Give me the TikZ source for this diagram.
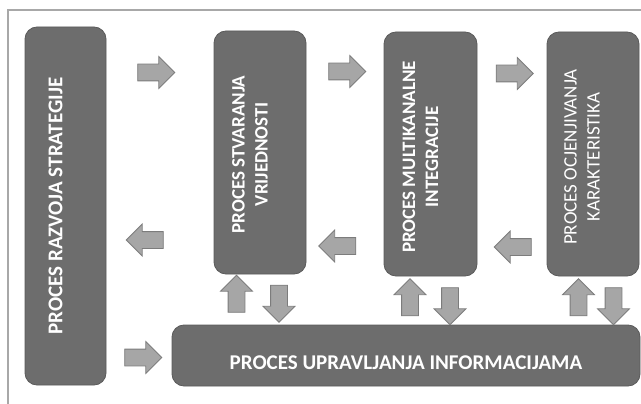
\documentclass[tikz,border=0pt]{standalone}
\usepackage{fontspec}
\setmainfont{Carlito}
\usetikzlibrary{shapes.arrows}

\definecolor{boxgray}{HTML}{6D6D6D}
\definecolor{boxline}{HTML}{5A5A5A}
\definecolor{arrowgray}{HTML}{A6A6A6}
\definecolor{arrowline}{HTML}{7C7C7C}
\definecolor{framegray}{HTML}{A8A8A8}

\tikzset{
    procbox/.style={draw=boxline, fill=boxgray, rounded corners=12pt, line width=0.8pt, inner sep=0pt},
    proctext/.style={text=white, font=\fontsize{21}{24}\selectfont\bfseries, align=center, inner sep=0pt},
    smalltext/.style={proctext, font=\fontsize{19}{23}\selectfont\bfseries},
    blockarrow/.style={single arrow, draw=arrowline, fill=arrowgray, line width=0.8pt, inner sep=8pt,
        minimum height=37pt, minimum width=31pt, single arrow head extend=7.5pt},
}

\begin{document}
\begin{tikzpicture}[x=1pt, y=-1pt]
            \useasboundingbox (0,0) rectangle (641,404);
            \draw [framegray, line width=1.2pt] (8,404) -- (8,10) -- (641,10);
            % process boxes
            \node [procbox, minimum width=81pt, minimum height=358pt] (strategija) at (65.5,206) {};
            \node [procbox, minimum width=92pt, minimum height=243pt] (stvaranje) at (260,152.5) {};
            \node [procbox, minimum width=93pt, minimum height=244pt] (integracija) at (430.5,154) {};
            \node [procbox, minimum width=92pt, minimum height=244pt] (ocjena) at (593,154) {};
            \node [procbox, minimum width=468pt, minimum height=61pt] (informacije) at (406,355.5) {};
            % box texts
            \node [proctext, rotate=90] (t-strategija) at ([xshift=-10pt]strategija.center) {PROCES RAZVOJA STRATEGIJE};
            \node [smalltext, rotate=90] (t-stvaranje) at ([xshift=-10pt,yshift=-2pt]stvaranje.center) {PROCES STVARANJA\\VRIJEDNOSTI};
            \node [smalltext, rotate=90] (t-integracija) at ([xshift=-10pt,yshift=-3pt]integracija.center) {PROCES MULTIKANALNE\\INTEGRACIJE};
            \node [smalltext, rotate=90, font=\fontsize{19}{23}\selectfont] (t-ocjena) at ([xshift=-11pt,yshift=-3pt]ocjena.center) {PROCES OCJENJIVANJA\\KARAKTERISTIKA};
            \node [proctext] (t-informacije) at ([yshift=-7pt]informacije.center) {PROCES UPRAVLJANJA INFORMACIJAMA};
            % arrows between processes
            \node [blockarrow] (r1) at (152,72.5) {};
            \node [blockarrow] (r2) at (343,71.5) {};
            \node [blockarrow] (r3) at (510.5,73.5) {};
            \node [blockarrow, shape border rotate=180] (l1) at (149,240) {};
            \node [blockarrow, shape border rotate=180] (l2) at (341.5,246) {};
            \node [blockarrow, shape border rotate=180] (l3) at (517,247) {};
            \node [blockarrow, shape border rotate=90] (u2) at (236.5,298) {};
            \node [blockarrow, shape border rotate=270] (d2) at (279,299.5) {};
            \node [blockarrow, shape border rotate=90] (u3) at (410,301.5) {};
            \node [blockarrow, shape border rotate=270] (d3) at (450,302) {};
            \node [blockarrow, shape border rotate=90] (u4) at (578.5,301.5) {};
            \node [blockarrow, shape border rotate=270] (d4) at (613.5,302) {};
            \node [blockarrow] (r5) at (139,357.5) {};
        \end{tikzpicture}
\end{document}
